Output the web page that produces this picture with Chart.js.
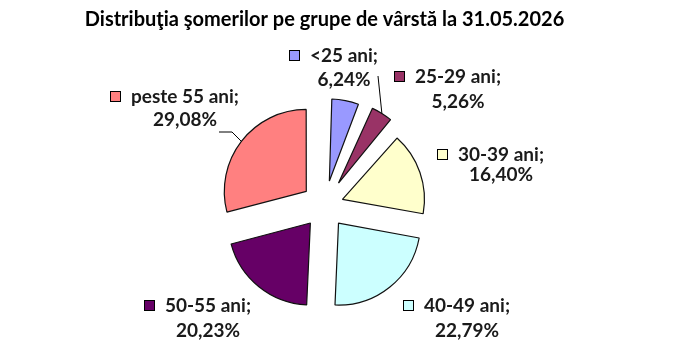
<!DOCTYPE html>
<html><head><meta charset="utf-8">
<script src="https://cdn.jsdelivr.net/npm/chart.js@4/dist/chart.umd.min.js"></script>
<style>html,body{margin:0;padding:0;background:#fff;}#wrap{width:679px;height:361px;}</style>
</head><body><div id="wrap"><canvas id="c" width="679" height="361"></canvas></div>
<script>
// ---- data ----
const titleText = 'Distribuţia şomerilor pe grupe de vârstă la 31.05.2026';
const categories = ['<25 ani', '25-29 ani', '30-39 ani', '40-49 ani', '50-55 ani', 'peste 55 ani'];
const shares = [6.24, 5.26, 16.40, 22.79, 20.23, 29.08];

// ---- style ----
const sliceColors = ['#9999FF', '#993366', '#FFFFCC', '#CCFFFF', '#660066', '#FF8080'];
const explode = [100, 106, 76, 90, 90, 92];
const FONT = 'Lato, "Open Sans", sans-serif';
const labelLayout = [
  {cx: 344, y1: 56, y2: 80},
  {cx: 458, y1: 77, y2: 102, leader: [[378, 76]]},
  {cx: 501, y1: 155, y2: 175},
  {cx: 467, y1: 306, y2: 331},
  {cx: 208, y1: 306, y2: 331},
  {cx: 185, y1: 97, y2: 120, leader: [[219, 132], [232, 132]]}
];

// keep exploded slices at their true radius (Chart.js enlarges narrow offset slices)
const ArcEl = Chart.ArcElement || (Chart.elements && Chart.elements.ArcElement);
const baseArcDraw = ArcEl.prototype.draw;
ArcEl.prototype.draw = function (ctx) {
  const off = (this.options.offset || 0) / 4;
  const fix = 1 - Math.sin(Math.min(Math.PI, this.circumference || 0));
  const keep = this.outerRadius;
  this.outerRadius = keep - off * fix;
  baseArcDraw.call(this, ctx);
  this.outerRadius = keep;
};

const fmtPct = v => v.toFixed(2).replace('.', ',') + '%';

const labelPlugin = {
  id: 'sliceLabels',
  afterDraw(chart) {
    const ctx = chart.ctx;
    const meta = chart.getDatasetMeta(0);
    ctx.save();
    ctx.font = 'bold 19px ' + FONT;
    ctx.textBaseline = 'middle';
    ctx.textAlign = 'center';
    categories.forEach((cat, i) => {
      const L = labelLayout[i];
      const line1 = cat + ';';
      const w1 = ctx.measureText(line1).width;
      ctx.fillStyle = '#1a1a1a';
      ctx.fillText(line1, L.cx, L.y1);
      ctx.fillText(fmtPct(shares[i]), L.cx, L.y2);
      // legend key square
      const sx = Math.round(L.cx - w1 / 2 - 10 - 11);
      const sy = Math.round(L.y1 - 6);
      ctx.fillStyle = sliceColors[i];
      ctx.fillRect(sx, sy, 11, 11);
      ctx.strokeStyle = '#000';
      ctx.lineWidth = 1;
      ctx.strokeRect(sx + 0.5, sy + 0.5, 10, 10);
      if (L.leader) {
        const arc = meta.data[i];
        const mid = (arc.startAngle + arc.endAngle) / 2;
        const r = arc.outerRadius + (arc.options.offset || 0) / 4;
        ctx.beginPath();
        ctx.moveTo(L.leader[0][0], L.leader[0][1]);
        for (let k = 1; k < L.leader.length; k++) ctx.lineTo(L.leader[k][0], L.leader[k][1]);
        ctx.lineTo(arc.x + Math.cos(mid) * r, arc.y + Math.sin(mid) * r);
        ctx.strokeStyle = '#000';
        ctx.lineWidth = 1;
        ctx.stroke();
      }
    });
    ctx.restore();
  }
};

new Chart(document.getElementById('c'), {
  type: 'pie',
  data: {
    labels: categories,
    datasets: [{
      data: shares,
      backgroundColor: sliceColors,
      borderColor: '#111',
      borderWidth: 1.2,
      offset: explode
    }]
  },
  options: {
    responsive: false,
    animation: false,
    devicePixelRatio: 1,
    radius: 82,
    layout: {padding: {left: 0, right: 30, top: 0, bottom: 0}},
    plugins: {
      legend: {display: false},
      tooltip: {enabled: false},
      title: {
        display: true,
        text: titleText,
        color: '#000',
        font: {family: FONT, size: 20, weight: 'bold', lineHeight: 1.2},
        padding: {top: 7.5, bottom: 18.5}
      }
    }
  },
  plugins: [labelPlugin]
});
</script></body></html>
